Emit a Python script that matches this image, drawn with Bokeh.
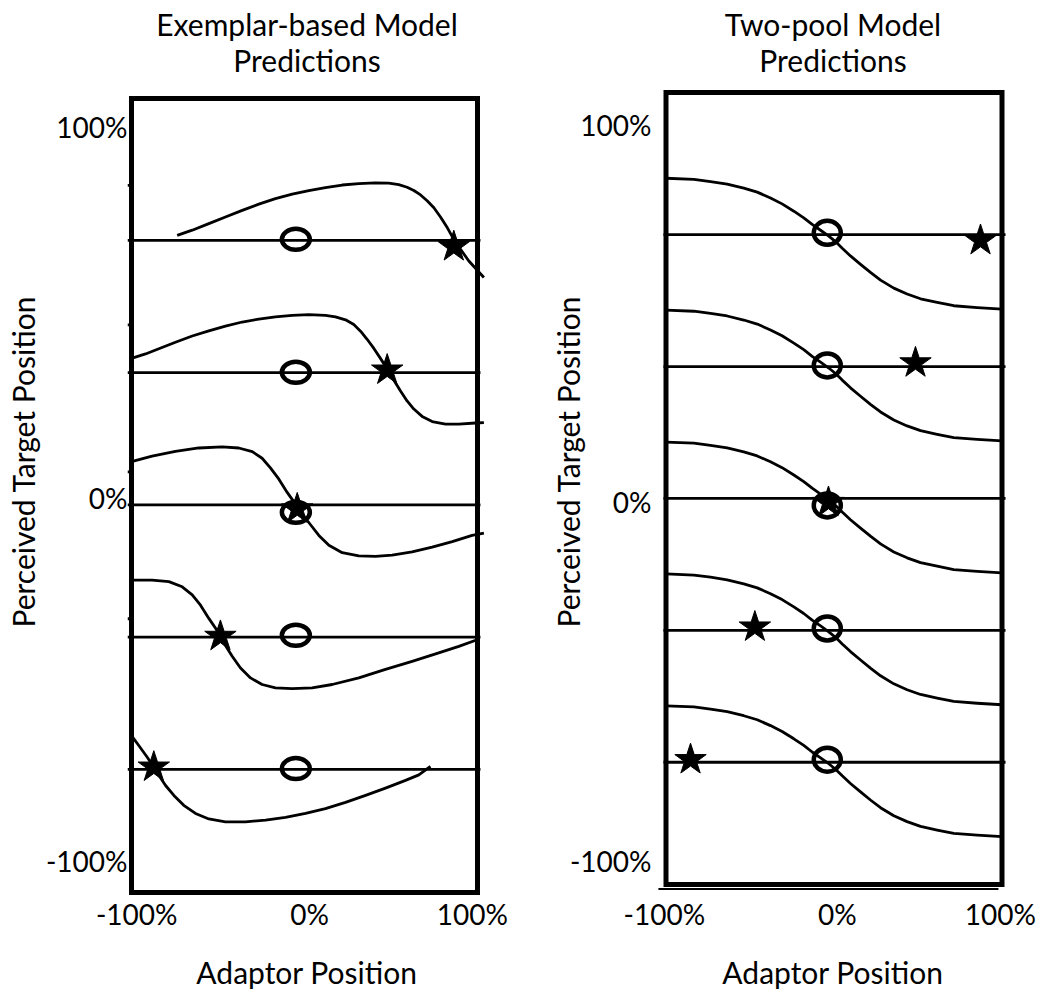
from bokeh.plotting import figure
from bokeh.models import FixedTicker, Title, Range1d
from bokeh.layouts import row
from bokeh.embed import file_html
from bokeh.resources import INLINE

# ---------------- data (percent units) ----------------
titles_left = ["Exemplar-based Model", "Predictions"]
titles_right = ["Two-pool Model", "Predictions"]
x_title = "Adaptor Position"
y_title = "Perceived Target Position"
y_tick_labels = ["100%", "0%", "-100%"]
x_tick_labels = ["-100%", "0%", "100%"]

ex_y_ticks = [103, 2, -97]
ex_x_ticks = [-97, 3, 97]
tp_y_ticks = [102, -1, -99]
tp_x_ticks = [-101, 2, 99]

# Exemplar-based model
ex_target_y = [72, 36, 0, -36, -72]
ex_circle_x = [-5, -5, -5, -5, -5]
ex_circle_y = [72.3, 36.1, -2.0, -35.5, -71.8]
ex_star_x = [86.3, 47.8, -4.2, -48.6, -87.1]
ex_star_y = [70.3, 36.7, -1.1, -35.8, -71.4]
ex_stub_y = [87, 49, 9, -31]

ex_c1_x = [-73.6, -64.9, -55.3, -45.7, -36.0, -26.4, -16.8, -7.1, 2.5, 12.1, 21.8, 31.4, 41.0,
           48.7, 54.5, 59.3, 63.2, 67.1, 70.9, 74.8, 78.6, 82.5, 86.3, 90.2, 95.0, 103.7]
ex_c1_y = [73.4, 74.8, 76.6, 78.4, 80.2, 81.9, 83.4, 84.6, 85.6, 86.4, 87.1, 87.5, 87.7,
           87.6, 87.2, 86.5, 85.6, 84.4, 82.8, 80.9, 78.4, 75.5, 72.3, 69.6, 66.4, 61.9]
ex_c2_x = [-100, -91.9, -84.2, -74.6, -64.9, -55.3, -45.7, -36.0, -26.4, -16.8, -7.1, 2.5, 12.1,
           17.9, 23.7, 28.5, 32.4, 36.2, 40.1, 43.9, 47.8, 51.6, 55.5, 59.3, 63.2, 68.0, 73.8,
           81.5, 89.2, 98.8, 103.7]
ex_c2_y = [39.9, 41.1, 42.5, 44.3, 46.0, 47.4, 48.7, 49.8, 50.6, 51.2, 51.6, 51.8, 51.6,
           51.2, 50.4, 49.1, 47.3, 45.1, 42.6, 39.9, 37.0, 34.0, 31.0, 28.3, 26.1, 24.1, 22.7,
           22.0, 22.0, 22.3, 22.4]
ex_c3_x = [-100, -88.1, -74.6, -61.1, -47.6, -38.0, -30.2, -24.5, -19.7, -14.8, -10.0, -5.2,
           -1.3, 3.5, 8.3, 14.1, 21.8, 31.4, 41.0, 50.7, 62.2, 73.8, 85.4, 96.9, 103.7]
ex_c3_y = [11.8, 13.3, 14.6, 15.5, 15.8, 15.5, 14.5, 12.7, 10.1, 7.0, 3.4, 0.2,
           -2.5, -5.4, -8.3, -11.0, -13.0, -13.9, -14.0, -13.7, -12.8, -11.5, -10.0, -8.3, -7.7]
ex_c4_x = [-100, -88.1, -78.4, -70.7, -64.9, -60.1, -55.3, -51.4, -48.6, -45.7, -41.8, -37.0,
           -31.2, -24.5, -16.8, -7.1, 4.4, 16.0, 31.4, 46.8, 62.2, 77.6, 89.2, 99.8]
ex_c4_y = [-20.5, -20.5, -20.9, -22.3, -24.5, -27.3, -30.9, -33.6, -35.8, -38.3, -41.2, -44.4,
           -47.1, -48.9, -49.8, -50.0, -49.8, -48.9, -47.1, -44.8, -42.6, -40.3, -38.5, -36.7]
ex_c5_x = [-100, -95.8, -90.9, -87.1, -84.2, -80.3, -75.5, -69.8, -63.0, -55.3, -45.7, -34.1,
           -22.5, -11.0, 0.6, 12.1, 23.7, 35.3, 46.8, 58.4, 66.1, 72.8]
ex_c5_y = [-62.8, -65.5, -68.7, -71.4, -73.6, -76.4, -79.1, -81.8, -84.0, -85.5, -86.3, -86.3,
           -85.8, -85.1, -84.0, -82.7, -81.0, -79.1, -77.1, -75.0, -73.5, -71.2]

# Two-pool model
tp_target_y = [72, 36, 0, -36, -72]
tp_circle_x = [-4, -4, -4, -4, -4]
tp_circle_y = [72.5, 36.3, -1.9, -35.5, -71.3]
tp_star_x = [87.2, 48.5, -3.3, -47.1, -85.4]
tp_star_y = [70.4, 37.0, -1.1, -35.1, -71.3]

tp_curve_x = [-100, -83.4, -73.5, -63.6, -53.7, -45.7, -37.8, -30.9, -23.9, -18.0, -13.0, -8.0,
              -3.1, 0.9, 4.9, 9.8, 15.8, 21.7, 27.7, 35.6, 43.5, 51.5, 61.4, 71.3, 85.2, 100]
tp_c1_y = [87.4, 87.1, 86.5, 85.8, 84.7, 83.6, 82.0, 80.4, 78.4, 76.6, 74.8, 73.2,
           71.6, 70.1, 68.3, 66.2, 63.9, 61.7, 59.6, 57.4, 55.8, 54.5, 53.5, 52.6, 52.1, 51.7]
tp_c2_y = [51.4, 51.1, 50.5, 49.8, 48.7, 47.6, 46.0, 44.4, 42.4, 40.6, 38.8, 37.2,
           35.6, 34.1, 32.3, 30.2, 27.9, 25.7, 23.6, 21.4, 19.8, 18.5, 17.5, 16.6, 16.1, 15.7]
tp_c3_y = [15.4, 15.1, 14.5, 13.8, 12.7, 11.6, 10.0, 8.4, 6.4, 4.6, 2.8, 1.2,
           -0.4, -1.9, -3.7, -5.8, -8.1, -10.3, -12.4, -14.6, -16.2, -17.5, -18.5, -19.4, -19.9, -20.3]
tp_c4_y = [-20.6, -20.9, -21.5, -22.2, -23.3, -24.4, -26.0, -27.6, -29.6, -31.4, -33.2, -34.8,
           -36.4, -37.9, -39.7, -41.8, -44.1, -46.3, -48.4, -50.6, -52.2, -53.5, -54.5, -55.4, -55.9, -56.3]
tp_c5_y = [-56.6, -56.9, -57.5, -58.2, -59.3, -60.4, -62.0, -63.6, -65.6, -67.4, -69.2, -70.8,
           -72.4, -73.9, -75.7, -77.8, -80.1, -82.3, -84.4, -86.6, -88.2, -89.5, -90.5, -91.4, -91.9, -92.3]

# ---------------- layout / style ----------------
FONT = "Lato"
TICK_FS = "28px"
LABEL_FS = "30px"
FIG_W, FIG_H = 520, 992
FRAME_TOP, FRAME_BOTTOM = 86, 902
LW_LINE = 2.8
LW_BOX = 5


def make_panel(fig_x0, frame_l, frame_r, box_l, box_r, box_top_px, box_bot_px,
               box_top_val, box_bot_val, titles, y_ticks, x_ticks, ylab_standoff,
               ytitle_standoff, ytitle_valign):
    xpp = 200.0 / (box_r - box_l)
    ypp = (box_top_val - box_bot_val) / (box_bot_px - box_top_px)
    x_rng = Range1d(-100 - (box_l - frame_l) * xpp, 100 + (frame_r - box_r) * xpp)
    y_rng = Range1d(box_bot_val - (FRAME_BOTTOM - box_bot_px) * ypp,
                    box_top_val + (box_top_px - FRAME_TOP) * ypp)
    p = figure(width=FIG_W, height=FIG_H, x_range=x_rng, y_range=y_rng,
               output_backend="svg", toolbar_location=None,
               min_border_left=frame_l - fig_x0,
               min_border_right=fig_x0 + FIG_W - frame_r,
               min_border_top=FRAME_TOP, min_border_bottom=FIG_H - FRAME_BOTTOM)
    p.outline_line_color = None
    p.grid.visible = False
    p.background_fill_color = "white"
    p.border_fill_color = "white"

    for ax, ticks, labels in ((p.yaxis, y_ticks, y_tick_labels), (p.xaxis, x_ticks, x_tick_labels)):
        ax.ticker = FixedTicker(ticks=ticks)
        ax.major_label_overrides = {t: l for t, l in zip(ticks, labels)}
        ax.axis_line_color = None
        ax.major_tick_line_color = None
        ax.minor_tick_line_color = None
        ax.major_tick_out = 0
        ax.major_tick_in = 0
        ax.major_label_text_font = FONT
        ax.major_label_text_font_size = TICK_FS
        ax.major_label_text_color = "black"
    p.yaxis.major_label_standoff = ylab_standoff
    p.xaxis.major_label_standoff = 0
    p.xaxis.axis_label = x_title
    p.xaxis.axis_label_text_font = FONT
    p.xaxis.axis_label_text_font_size = LABEL_FS
    p.xaxis.axis_label_text_font_style = "normal"
    p.xaxis.axis_label_text_color = "black"
    p.xaxis.axis_label_standoff = 20

    p.add_layout(Title(text=titles[1], align="center", text_font=FONT, text_font_size=LABEL_FS,
                       text_font_style="normal", text_color="black", standoff=17), "above")
    p.add_layout(Title(text=titles[0], align="center", text_font=FONT, text_font_size=LABEL_FS,
                       text_font_style="normal", text_color="black", standoff=-20), "above")
    p.add_layout(Title(text=y_title, align="left", offset=FRAME_BOTTOM - 633, text_font=FONT,
                       text_font_size=LABEL_FS, text_font_style="normal", text_color="black",
                       standoff=ytitle_standoff, vertical_align=ytitle_valign), "left")
    return p


# ---- left panel ----
EX_TOP, EX_BOT = 110.68, -105.54
pl = make_panel(0, 127, 486, 131, 477, 98, 898, EX_TOP, EX_BOT,
                titles_left, ex_y_ticks, ex_x_ticks, 0, 0, "top")

pl.segment(x0=-102.3, x1=101.7, y0=ex_target_y, y1=ex_target_y, line_color="black", line_width=LW_LINE)
pl.segment(x0=-102.3, x1=-100, y0=ex_stub_y, y1=ex_stub_y, line_color="black", line_width=LW_LINE)
for cx, cy in ((ex_c1_x, ex_c1_y), (ex_c2_x, ex_c2_y), (ex_c3_x, ex_c3_y),
               (ex_c4_x, ex_c4_y), (ex_c5_x, ex_c5_y)):
    pl.line(cx, cy, line_color="black", line_width=LW_LINE, line_join="round")
pl.quad(left=-100, right=100, top=EX_TOP, bottom=EX_BOT, fill_color=None,
        line_color="black", line_width=LW_BOX, line_join="miter")
pl.ellipse(x=ex_circle_x, y=ex_circle_y, width=28, height=21, width_units="screen",
           height_units="screen", fill_color=None, line_color="black", line_width=4.5)
pl.scatter(x=ex_star_x, y=ex_star_y, marker="star", size=33, color="black")

# ---- right panel ----
TP_TOP, TP_BOT = 110.81, -105.39
pr = make_panel(520, 655, 1010, 665.5, 1001.5, 92, 890, TP_TOP, TP_BOT,
                titles_right, tp_y_ticks, tp_x_ticks, 4, -38, "bottom")

pr.segment(x0=-101.5, x1=102.1, y0=tp_target_y, y1=tp_target_y, line_color="black", line_width=LW_LINE)
for cy in (tp_c1_y, tp_c2_y, tp_c3_y, tp_c4_y, tp_c5_y):
    pr.line(tp_curve_x, cy, line_color="black", line_width=LW_LINE, line_join="round")
pr.quad(left=-100, right=100, top=TP_TOP, bottom=TP_BOT, fill_color=None,
        line_color="black", line_width=LW_BOX, line_join="miter")
pr.segment(x0=-104.5, x1=97.9, y0=-106.6, y1=-106.6, line_color="black", line_width=2)
pr.ellipse(x=tp_circle_x, y=tp_circle_y, width=27, height=24, width_units="screen",
           height_units="screen", fill_color=None, line_color="black", line_width=4.5)
pr.scatter(x=tp_star_x, y=tp_star_y, marker="star", size=33, color="black")

layout = row(pl, pr, spacing=0)
open("out.html", "w").write(file_html(layout, INLINE))
